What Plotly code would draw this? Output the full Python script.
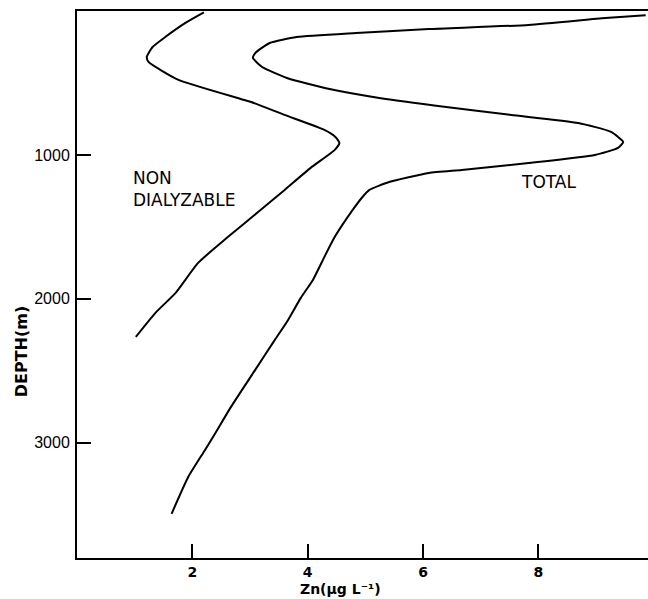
import plotly.graph_objects as go

# Total zinc profile: concentration (ug/L) against depth (m)
total_zn = [9.86, 9.16, 7.83, 6.10, 4.84, 3.81, 3.34, 3.09, 3.05, 3.21, 3.64, 4.38,
            5.24, 6.40, 7.53, 8.69, 9.26, 9.47, 9.38, 8.98, 7.83, 6.67, 6.10, 5.41,
            5.07, 4.95, 4.78, 4.47, 4.29, 4.09, 3.88, 3.66, 3.43, 3.09, 2.67, 2.40,
            2.22, 1.93, 1.64]
total_depth = [30, 49, 97, 125, 153, 181, 222, 292, 326, 389, 465, 542,
               604, 667, 722, 778, 840, 910, 951, 1000, 1056, 1104, 1125, 1188,
               1243, 1292, 1382, 1569, 1708, 1868, 1993, 2146, 2285, 2493, 2750, 2931,
               3049, 3236, 3493]

# Non-dialyzable zinc profile
nondial_zn = [2.20, 1.88, 1.53, 1.31, 1.21, 1.24, 1.76, 2.84, 3.02, 3.60, 4.29, 4.48,
              4.55, 4.47, 4.05, 3.60, 3.14, 2.62, 2.10, 1.71, 1.36, 1.02]
nondial_depth = [10, 83, 181, 250, 319, 354, 479, 611, 632, 722, 826, 875,
                 917, 965, 1090, 1243, 1396, 1569, 1750, 1958, 2097, 2264]

x_ticks = [2, 4, 6, 8]
y_ticks = [1000, 2000, 3000]

line_style = dict(color="black", width=2, shape="spline", smoothing=0.5)

fig = go.Figure()
fig.add_trace(go.Scatter(x=total_zn, y=total_depth, mode="lines", line=line_style,
                         name="TOTAL", showlegend=False))
fig.add_trace(go.Scatter(x=nondial_zn, y=nondial_depth, mode="lines", line=line_style,
                         name="NON DIALYZABLE", showlegend=False))

label_font = dict(family="DejaVu Sans", size=17, color="black")
fig.add_annotation(x=0.93, y=1236, text="NON<br>DIALYZABLE", showarrow=False,
                   xanchor="left", yanchor="middle", align="left", font=label_font)
fig.add_annotation(x=8.17, y=1188, text="TOTAL", showarrow=False,
                   xanchor="center", yanchor="middle", font=label_font)

# Axis titles
fig.add_annotation(xref="x", yref="paper", x=4.57, y=-0.056,
                   text="Zn(\u03bcg L\u207b\u00b9)", showarrow=False,
                   xanchor="center", yanchor="middle",
                   font=dict(family="DejaVu Sans", size=14, color="black", weight="bold"))
fig.add_annotation(xref="paper", yref="paper", x=-0.098, y=0.378,
                   text="DEPTH(m)", showarrow=False, textangle=-90,
                   xanchor="center", yanchor="middle",
                   font=dict(family="DejaVu Sans", size=16, color="black", weight="bold"))

fig.update_xaxes(range=[0, 9.9], tickvals=x_ticks, ticktext=[str(v) for v in x_ticks],
                 showline=True, linecolor="black", linewidth=2, mirror=True,
                 ticks="inside", ticklen=14, tickwidth=2, tickcolor="black",
                 showgrid=False, zeroline=False,
                 tickfont=dict(family="DejaVu Sans", size=14, color="black", weight="bold"))
fig.update_yaxes(range=[3800, 0], tickvals=y_ticks, ticktext=[str(v) for v in y_ticks],
                 showline=True, linecolor="black", linewidth=2,
                 ticks="inside", ticklen=14, tickwidth=2, tickcolor="black",
                 showgrid=False, zeroline=False, ticklabelstandoff=2,
                 tickfont=dict(family="Liberation Sans Narrow, Liberation Sans", size=16, color="black"))

fig.update_layout(width=648, height=599, margin=dict(l=77, r=0, t=11, b=41),
                  plot_bgcolor="white", paper_bgcolor="white")

fig.write_html("out.html")
